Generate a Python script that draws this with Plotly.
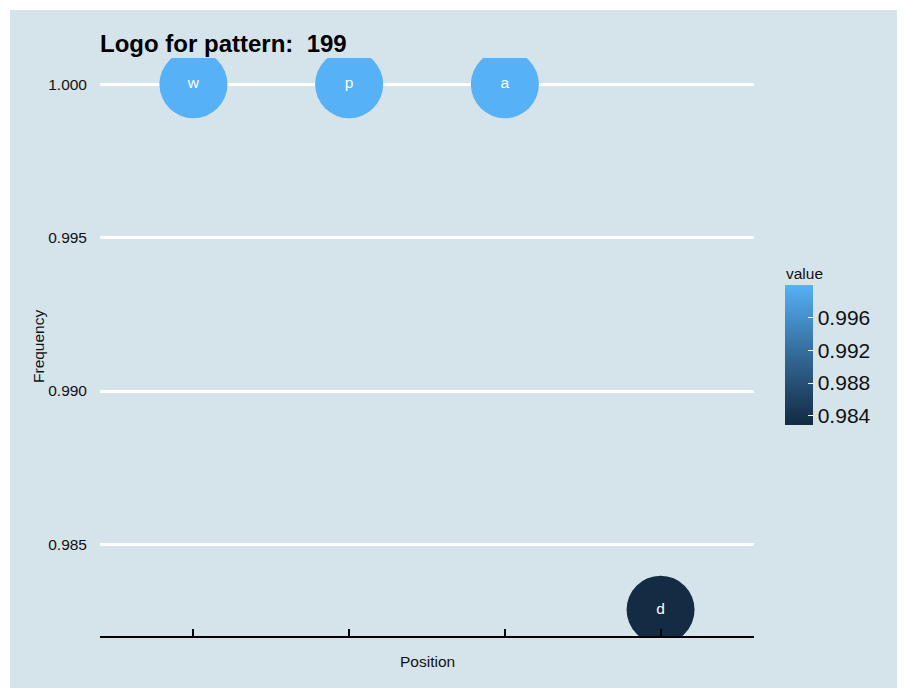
import plotly.graph_objects as go

# ---- data ----
positions = [1, 2, 3, 4]
letters = ["w", "p", "a", "d"]
frequencies = [1.000, 1.000, 1.000, 0.98287]
y_ticks = [0.985, 0.990, 0.995, 1.000]
cbar_ticks = [0.984, 0.988, 0.992, 0.996]
title_text = "Logo for pattern:\u00a0 199"

# ---- Lab-interpolated gradient (like ggplot's default) ----
def _to_lin(c):
    c = c / 255.0
    return c / 12.92 if c <= 0.04045 else ((c + 0.055) / 1.055) ** 2.4

def _from_lin(c):
    v = 12.92 * c if c <= 0.0031308 else 1.055 * c ** (1 / 2.4) - 0.055
    return max(0, min(255, round(v * 255)))

Xn, Yn, Zn = 0.95047, 1.0, 1.08883

def _f(t):
    return t ** (1 / 3) if t > 0.008856 else 7.787 * t + 16 / 116

def _finv(t):
    return t ** 3 if t ** 3 > 0.008856 else (t - 16 / 116) / 7.787

def hex2lab(h):
    r, g, b = [_to_lin(int(h[i:i + 2], 16)) for i in (1, 3, 5)]
    X = 0.4124 * r + 0.3576 * g + 0.1805 * b
    Y = 0.2126 * r + 0.7152 * g + 0.0722 * b
    Z = 0.0193 * r + 0.1192 * g + 0.9505 * b
    fx, fy, fz = _f(X / Xn), _f(Y / Yn), _f(Z / Zn)
    return (116 * fy - 16, 500 * (fx - fy), 200 * (fy - fz))

def lab2hex(L, a, b):
    fy = (L + 16) / 116
    fx = fy + a / 500
    fz = fy - b / 200
    X, Y, Z = Xn * _finv(fx), Yn * _finv(fy), Zn * _finv(fz)
    r = 3.2406 * X - 1.5372 * Y - 0.4986 * Z
    g = -0.9689 * X + 1.8758 * Y + 0.0415 * Z
    bb = 0.0557 * X - 0.2040 * Y + 1.0570 * Z
    return "#%02x%02x%02x" % tuple(_from_lin(max(0, v)) for v in (r, g, bb))

low, high = hex2lab("#132B43"), hex2lab("#56B1F7")
n = 10
colorscale = []
for i in range(n + 1):
    t = i / n
    colorscale.append([t, lab2hex(*[low[k] + (high[k] - low[k]) * t for k in range(3)])])

BG = "#d5e4eb"
OFF = 8  # page body margin
W, H = 905 - OFF, 688 - OFF
L, R, T, B = 100 - OFF, 754 - OFF, 58 - OFF, 636 - OFF
pw, ph = R - L, B - T

def px_x(x):  # reference screen px -> paper
    return (x - OFF - L) / pw

def px_y(y):
    return (B - (y - OFF)) / ph

ymin, ymax = min(frequencies), max(frequencies)
pad = (ymax - ymin) * 0.05
FONT = "Liberation Sans, Arial"

fig = go.Figure()
fig.add_trace(go.Scatter(
    x=positions, y=frequencies, mode="markers+text",
    text=letters, textposition="middle center",
    textfont=dict(color="white", size=15.5, family=FONT),
    cliponaxis=True,
    marker=dict(
        size=68, color=frequencies, colorscale=colorscale,
        cmin=ymin, cmax=ymax, line=dict(width=0), opacity=1,
        colorbar=dict(
            lenmode="pixels", len=140, thickness=28,
            x=px_x(785), xanchor="left", xpad=0,
            y=px_y(355), yanchor="middle", ypad=0,
            outlinewidth=0,
            tickvals=cbar_ticks, ticktext=["%.3f" % v for v in cbar_ticks],
            ticks="inside", ticklen=5, tickcolor="white", tickwidth=1,
            tickfont=dict(size=21, color="#111", family=FONT),
        ),
    ),
    showlegend=False, hoverinfo="skip",
))

fig.update_layout(
    width=W, height=H,
    margin=dict(l=L, r=W - R, t=T, b=H - B, pad=0),
    paper_bgcolor=BG, plot_bgcolor=BG,
    font=dict(family=FONT, color="#111"),
    title=dict(text="<b>" + title_text + "</b>", x=L / W, xanchor="left",
               xref="container", y=1 - (44 - OFF) / H, yanchor="middle", yref="container",
               font=dict(size=24, color="black")),
    xaxis=dict(range=[0.4, 4.6], tickvals=positions, showticklabels=False,
               ticks="inside", ticklen=7, tickwidth=1.5, tickcolor="black",
               showline=True, linecolor="black", linewidth=1.5,
               showgrid=False, zeroline=False, fixedrange=True),
    yaxis=dict(range=[ymin - pad, ymax + pad], tickvals=y_ticks,
               ticktext=["%.3f" % v for v in y_ticks],
               tickfont=dict(size=15.5, color="#111"), ticks="",
               showline=False, showgrid=True, gridcolor="white", gridwidth=2.5,
               zeroline=False, ticklabelstandoff=12, fixedrange=True),
    shapes=[
        # white page border (top and left strips)
        dict(type="rect", xref="paper", yref="paper",
             x0=px_x(0), x1=px_x(10), y0=px_y(700), y1=px_y(0),
             fillcolor="white", line=dict(width=0), layer="below"),
        dict(type="rect", xref="paper", yref="paper",
             x0=px_x(0), x1=px_x(920), y0=px_y(10), y1=px_y(0),
             fillcolor="white", line=dict(width=0), layer="below"),
    ],
    annotations=[
        dict(text="Frequency", xref="paper", yref="paper", x=px_x(38), y=px_y(347),
             textangle=-90, showarrow=False, xanchor="center", yanchor="middle",
             font=dict(size=15.5, color="#111")),
        dict(text="Position", xref="paper", yref="paper", x=px_x(427), y=px_y(661),
             showarrow=False, xanchor="center", yanchor="middle",
             font=dict(size=15.5, color="#111")),
        dict(text="value", xref="paper", yref="paper", x=px_x(784), y=px_y(273),
             showarrow=False, xanchor="left", yanchor="middle",
             font=dict(size=15.5, color="#111")),
    ],
)

fig.write_html("out.html", config={"displayModeBar": False})
